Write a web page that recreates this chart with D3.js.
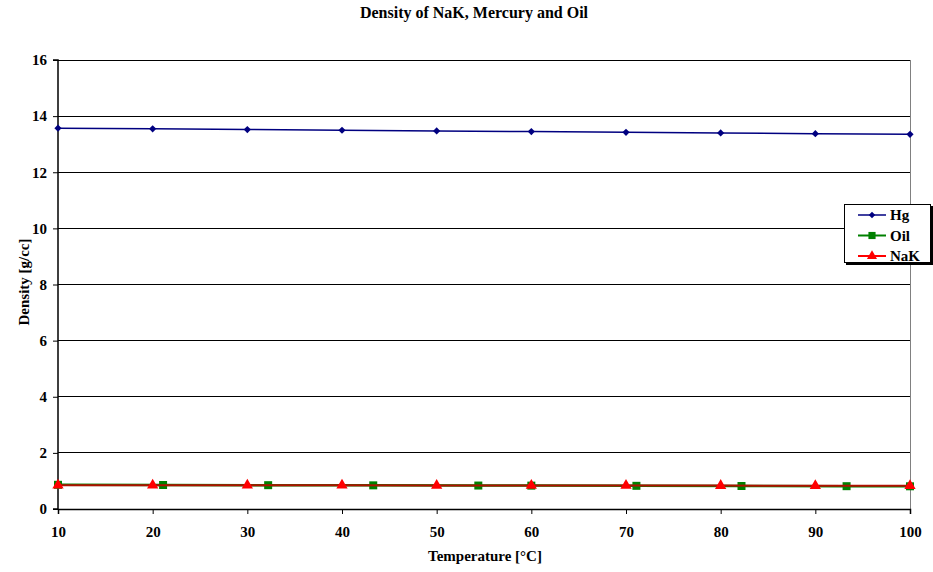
<!DOCTYPE html>
<html>
<head>
<meta charset="utf-8">
<script src="https://cdn.jsdelivr.net/npm/d3@7"></script>
<style>
  html, body { margin: 0; padding: 0; background: #fff; }
  svg { display: block; font-family: "Liberation Serif", "Times New Roman", serif; }
</style>
</head>
<body>
<svg id="chart" width="933" height="572"></svg>
<script>
// Mercury density, 10-100 °C
const hgTemp = [10, 20, 30, 40, 50, 60, 70, 80, 90, 100];
const hgDensity = [13.571, 13.546, 13.522, 13.497, 13.473, 13.449, 13.424, 13.400, 13.376, 13.352];

// Oil density (sampled at 50, 70, ... 200 °F, plus 60 and 100 °C)
const oilTemp = [10, 21.1, 32.2, 43.3, 54.4, 60, 71.1, 82.2, 93.3, 100];
const oilDensity = [0.862, 0.856, 0.849, 0.843, 0.836, 0.833, 0.826, 0.820, 0.813, 0.809];

// NaK density
const nakTemp = [10, 20, 30, 40, 50, 60, 70, 80, 90, 100];
const nakDensity = [0.850, 0.848, 0.845, 0.843, 0.840, 0.838, 0.836, 0.833, 0.831, 0.828];

const xTicks = [10, 20, 30, 40, 50, 60, 70, 80, 90, 100];
const yTicks = [0, 2, 4, 6, 8, 10, 12, 14, 16];

const svg = d3.select("#chart");
const plotLeft = 58, plotRight = 910, plotTop = 60, plotBottom = 509;

const x = d3.scaleLinear().domain([10, 100]).range([plotLeft, plotRight]);
const y = d3.scaleLinear().domain([0, 16]).range([plotBottom, plotTop]);

// Title
svg.append("text")
  .attr("x", 474).attr("y", 18)
  .attr("text-anchor", "middle")
  .attr("font-size", 16).attr("font-weight", "bold")
  .text("Density of NaK, Mercury and Oil");

// Horizontal gridlines
svg.append("g").selectAll("line")
  .data(yTicks.filter(d => d > 0))
  .join("line")
  .attr("x1", plotLeft).attr("x2", plotRight)
  .attr("y1", d => y(d)).attr("y2", d => y(d))
  .attr("stroke", "#000").attr("stroke-width", 1)
  .attr("shape-rendering", "crispEdges");

// Right border of plot area
svg.append("line")
  .attr("x1", plotRight).attr("x2", plotRight)
  .attr("y1", plotTop).attr("y2", plotBottom)
  .attr("stroke", "#808080").attr("stroke-width", 1)
  .attr("shape-rendering", "crispEdges");

// Axes
const yAxis = d3.axisLeft(y).tickValues(yTicks).tickSize(5).tickPadding(6).tickFormat(d3.format("d"));
const xAxis = d3.axisBottom(x).tickValues(xTicks).tickSize(5).tickFormat(d3.format("d"));

const gy = svg.append("g").attr("transform", `translate(${plotLeft},0)`).call(yAxis);
const gx = svg.append("g").attr("transform", `translate(0,${plotBottom})`).call(xAxis);
[gx, gy].forEach(g => {
  g.select(".domain").attr("stroke", "#000").attr("stroke-width", 1.5);
  g.selectAll(".tick line").attr("stroke", "#000");
  g.selectAll(".tick text")
    .attr("font-family", "Liberation Serif, Times New Roman, serif")
    .attr("font-size", 15).attr("font-weight", "bold").attr("fill", "#000");
});
gx.selectAll(".tick text").attr("y", 28).attr("dy", null);
gy.select(".domain").attr("d", `M-5,${plotBottom}H0V${plotTop}H-5`);

// Axis titles
svg.append("text")
  .attr("x", 485).attr("y", 561)
  .attr("text-anchor", "middle")
  .attr("font-size", 15).attr("font-weight", "bold")
  .text("Temperature [°C]");
svg.append("text")
  .attr("transform", `translate(29,282) rotate(-90)`)
  .attr("text-anchor", "middle")
  .attr("font-size", 15).attr("font-weight", "bold")
  .text("Density [g/cc]");

const line = d3.line().x(d => x(d[0])).y(d => y(d[1]));

const series = [
  { name: "Hg", t: hgTemp, v: hgDensity, color: "#000080", lineColor: "#000080", width: 1.5, symbol: d3.symbolSquare, size: 26, rot: 45 },
  { name: "Oil", t: oilTemp, v: oilDensity, color: "#008000", lineColor: "#008000", width: 2.5, symbol: d3.symbolSquare, size: 64, rot: 0 },
  { name: "NaK", t: nakTemp, v: nakDensity, color: "#FF0000", lineColor: "#b01000", width: 2, symbol: d3.symbolTriangle, size: 55, rot: 0 }
];

series.forEach(s => {
  const pts = s.t.map((t, i) => [t, s.v[i]]);
  svg.append("path")
    .datum(pts)
    .attr("d", line)
    .attr("fill", "none")
    .attr("stroke", s.lineColor)
    .attr("stroke-width", s.width);
  svg.append("g").selectAll("path")
    .data(pts)
    .join("path")
    .attr("transform", d => `translate(${x(d[0])},${y(d[1])}) rotate(${s.rot})`)
    .attr("d", d3.symbol(s.symbol, s.size))
    .attr("fill", s.color);
});

// Legend
const lg = svg.append("g").attr("transform", "translate(844,204)");
lg.append("rect").attr("x", 2).attr("y", 2).attr("width", 87).attr("height", 59).attr("fill", "#000");
lg.append("rect").attr("x", 0).attr("y", 0).attr("width", 86).attr("height", 58)
  .attr("fill", "#fff").attr("stroke", "#000").attr("stroke-width", 1)
  .attr("shape-rendering", "crispEdges");
series.forEach((s, i) => {
  const cy = 11 + i * 20.5;
  lg.append("line")
    .attr("x1", 14).attr("x2", 42).attr("y1", cy).attr("y2", cy)
    .attr("stroke", s.color).attr("stroke-width", s.name === "Hg" ? 1.5 : 2);
  lg.append("path")
    .attr("transform", `translate(28,${cy}) rotate(${s.rot})`)
    .attr("d", d3.symbol(s.symbol, s.size * 0.8))
    .attr("fill", s.color);
  lg.append("text")
    .attr("x", 46).attr("y", cy + 5)
    .attr("font-size", 15).attr("font-weight", "bold")
    .text(s.name);
});
</script>
</body>
</html>
